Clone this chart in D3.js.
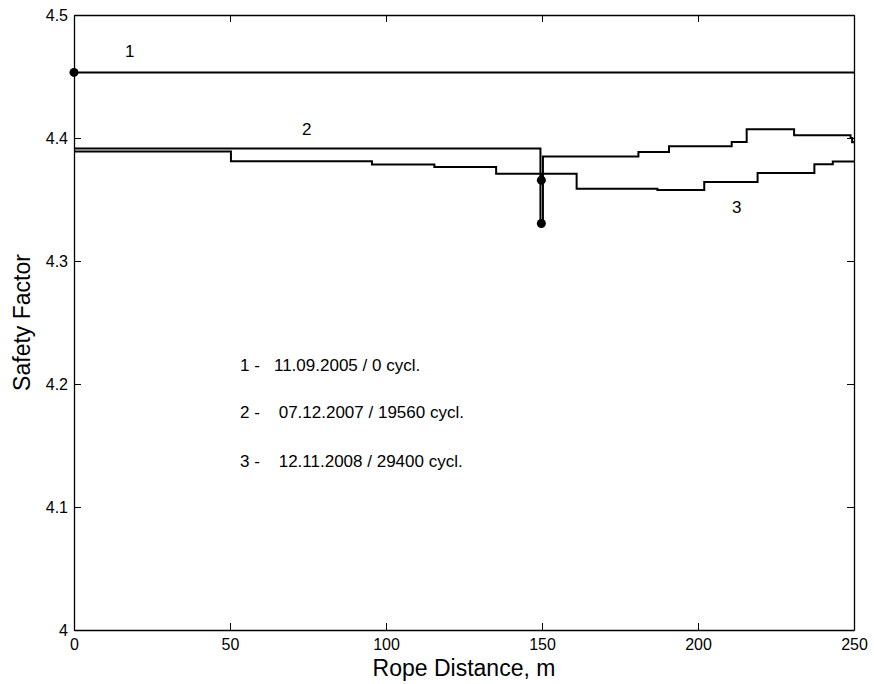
<!DOCTYPE html>
<html>
<head>
<meta charset="utf-8">
<script src="https://cdn.jsdelivr.net/npm/d3@7"></script>
<style>
  body { margin: 0; background: #fff; }
  text { font-family: "Liberation Sans", Arial, sans-serif; fill: #000; }
</style>
</head>
<body>
<script>
const width = 874, height = 684;
const margin = { top: 15, right: 20, bottom: 54, left: 74 };

// step series: x where the value changes, value held until next x
const s1X = [0, 250];
const s1Y = [4.4533, 4.4533];
const s2X = [0, 149.5, 150.3, 180.9, 190.7, 210.8, 215.6, 230.8, 248.9, 249.4, 250];
const s2Y = [4.3914, 4.3305, 4.385, 4.3886, 4.3933, 4.3968, 4.4071, 4.4022, 4.4000, 4.3965, 4.3965];
const s3X = [0, 50.3, 95.5, 115.5, 135.3, 149.7, 150.0, 161.1, 187, 202, 219.1, 237.3, 243.2, 250];
const s3Y = [4.389, 4.381, 4.3784, 4.3765, 4.371, 4.3657, 4.371, 4.3587, 4.3578, 4.3643, 4.3716, 4.3786, 4.3809, 4.3809];

const markers = [[0, 4.4533], [149.8, 4.3305], [149.8, 4.3657]];
const curveLabels = [["1", 17.9, 4.4698], ["2", 74.6, 4.4063], ["3", 212.4, 4.3427]];
const legendLines = ["1 -   11.09.2005 / 0 cycl.", "2 -    07.12.2007 / 19560 cycl.", "3 -    12.11.2008 / 29400 cycl."];
const legendY = [4.2139, 4.1757, 4.1360];

const xTicks = [0, 50, 100, 150, 200, 250];
const yTicks = [4, 4.1, 4.2, 4.3, 4.4, 4.5];

const svg = d3.select("body").append("svg")
  .attr("width", width)
  .attr("height", height);

const x = d3.scaleLinear().domain([0, 250]).range([margin.left, width - margin.right]);
const y = d3.scaleLinear().domain([4, 4.5]).range([height - margin.bottom, margin.top]);

// axes, ticks pointing inward, box on all sides
svg.append("g")
  .attr("transform", `translate(0,${y(4)})`)
  .call(d3.axisBottom(x).tickValues(xTicks).tickSizeInner(-7).tickSizeOuter(0).tickPadding(9)
    .tickFormat(d3.format("d")));
svg.append("g")
  .attr("transform", `translate(0,${y(4.5)})`)
  .call(d3.axisTop(x).tickValues(xTicks).tickSizeInner(-7).tickSizeOuter(0).tickFormat(""));
svg.append("g")
  .attr("transform", `translate(${x(0)},0)`)
  .call(d3.axisLeft(y).tickValues(yTicks).tickSizeInner(-7).tickSizeOuter(0).tickPadding(6)
    .tickFormat(d => d === 4 ? "4" : d3.format(".1f")(d)));
svg.append("g")
  .attr("transform", `translate(${x(250)},0)`)
  .call(d3.axisRight(y).tickValues(yTicks).tickSizeInner(-7).tickSizeOuter(0).tickFormat(""));

svg.selectAll(".domain").attr("stroke", "#000").attr("stroke-width", 1.3);
svg.selectAll(".tick line").attr("stroke", "#000");
svg.selectAll(".tick text").style("font-size", "16px").attr("fill", "#000");

// series
const line = d3.line()
  .x(d => x(d[0]))
  .y(d => y(d[1]))
  .curve(d3.curveStepAfter);

[[s1X, s1Y], [s2X, s2Y], [s3X, s3Y]].forEach(function (s) {
  svg.append("path")
    .datum(s[0].map((v, i) => [v, s[1][i]]))
    .attr("fill", "none")
    .attr("stroke", "#000")
    .attr("stroke-width", 2)
    .attr("d", line);
});

svg.selectAll("circle.mk")
  .data(markers)
  .enter().append("circle")
  .attr("class", "mk")
  .attr("cx", d => x(d[0]))
  .attr("cy", d => y(d[1]))
  .attr("r", 4.5)
  .attr("fill", "#000");

svg.selectAll("text.cl")
  .data(curveLabels)
  .enter().append("text")
  .attr("class", "cl")
  .attr("x", d => x(d[1]))
  .attr("y", d => y(d[2]))
  .attr("text-anchor", "middle")
  .attr("dominant-baseline", "middle")
  .style("font-size", "17px")
  .text(d => d[0]);

svg.selectAll("text.lg")
  .data(legendLines)
  .enter().append("text")
  .attr("class", "lg")
  .attr("x", x(53.2))
  .attr("y", (d, i) => y(legendY[i]))
  .attr("dominant-baseline", "middle")
  .style("font-size", "17px")
  .style("white-space", "pre")
  .text(d => d);

// axis titles
svg.append("text")
  .attr("x", (x(0) + x(250)) / 2)
  .attr("y", 676)
  .attr("text-anchor", "middle")
  .style("font-size", "23px")
  .text("Rope Distance, m");

svg.append("text")
  .attr("transform", `translate(24,${(y(4) + y(4.5)) / 2}) rotate(-90)`)
  .attr("text-anchor", "middle")
  .attr("dominant-baseline", "middle")
  .style("font-size", "23px")
  .text("Safety Factor");
</script>
</body>
</html>
